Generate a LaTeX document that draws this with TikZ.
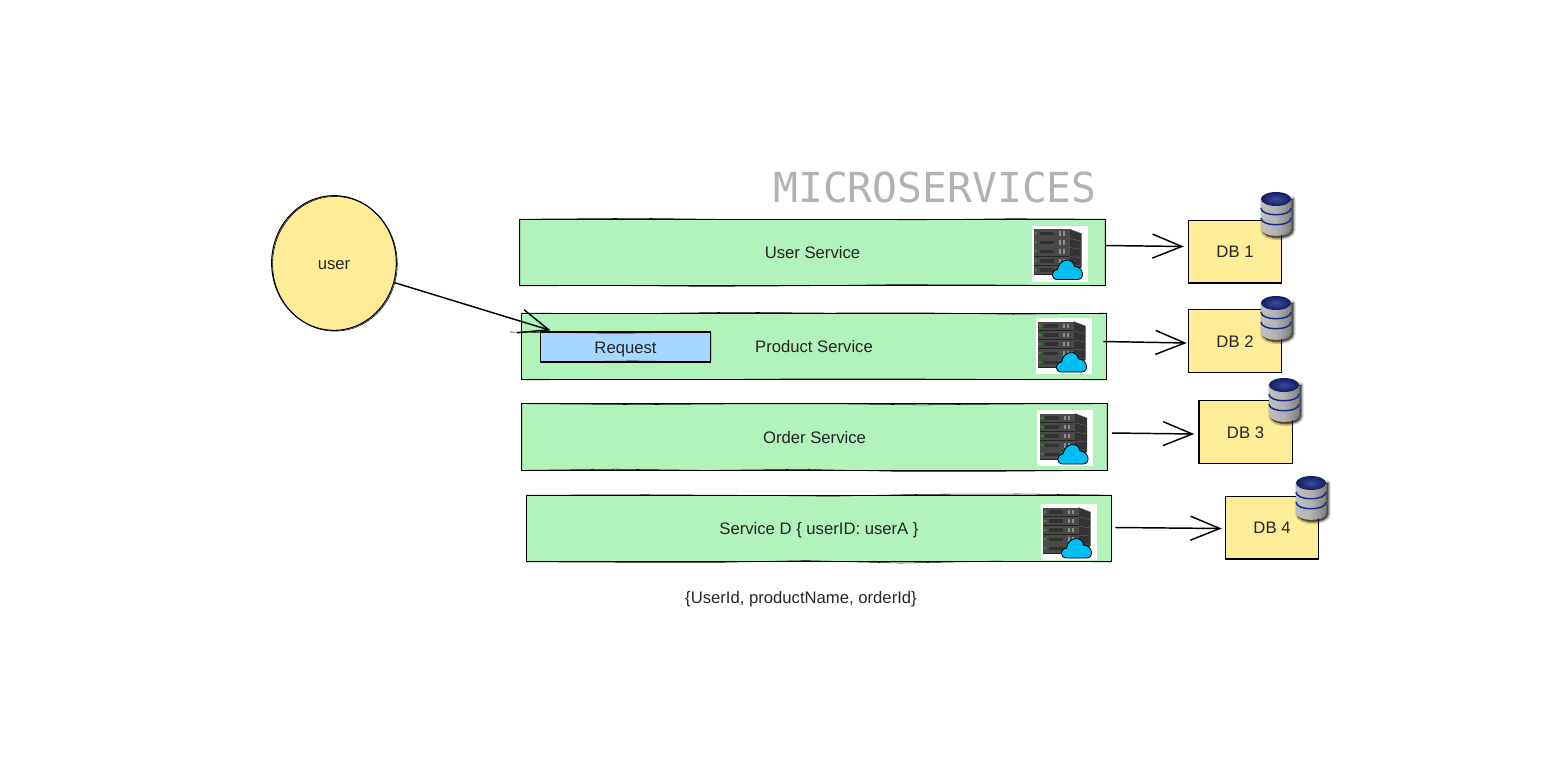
\documentclass[tikz,border=0pt]{standalone}
\usepackage{fontspec}
\usepackage{xcolor}
\setmainfont{Liberation Sans}
\setmonofont{DejaVu Sans Mono}
\usetikzlibrary{arrows.meta,decorations.pathmorphing,shapes.geometric}

\definecolor{svcgreen}{HTML}{B2F2BB}
\definecolor{noteyellow}{HTML}{FFEC99}
\definecolor{reqblue}{HTML}{A5D8FF}
\definecolor{cloudblue}{HTML}{00BEF2}
\definecolor{rackgrey}{HTML}{4A4A4A}
\definecolor{dbblue}{HTML}{1A2A8C}

\tikzset{
    every node/.style={font=\fontsize{12.5}{14}\selectfont, text=black!85, inner sep=0pt,
        text height=9.4pt, text depth=0pt},
    sketch/.style={draw=black, line width=.9pt,
        postaction={draw, line width=.4pt, decorate,
            decoration={random steps, segment length=70pt, amplitude=.9pt}}},
    svcbox/.style={sketch, fill=svcgreen, minimum width=439pt, minimum height=50pt},
    dbbox/.style={sketch, fill=noteyellow, minimum width=70pt, minimum height=47pt},
    reqbox/.style={sketch, fill=reqblue, minimum width=128pt, minimum height=22.5pt},
    userbox/.style={ellipse, draw=black, line width=.8pt, fill=noteyellow,
        minimum width=93.5pt, minimum height=101pt,
        postaction={draw, line width=.4pt, transform canvas={xshift=.7pt, yshift=-.6pt}}},
    barb/.style={-{Straight Barb[length=22pt, width=18pt, line width=1.1pt]}, line width=1.1pt},
    servericon/.pic={
        \fill[white] (-28,-28) rectangle (28,28);
        \fill[black!80] (10,-24.5) -- (22,-20) -- (22,14) -- (10,21.5) -- cycle;
        \fill[black!85] (-25.5,-24.5) rectangle (10,21.5);
        \foreach \row in {0,...,4} {
            \fill[rackgrey] (-25.5,-24.5+9.2*\row) rectangle (10,-16+9.2*\row);
            \draw[black!60, line width=.3pt] (10,-24.5+9.2*\row) -- (22,-20+8*\row);
            \fill[green!70!black] (-24.5,-21.5+9.2*\row) rectangle (-22.5,-19.5+9.2*\row);
            \fill[black!80] (-20,-22+9.2*\row) rectangle (-6,-18.5+9.2*\row);
            \fill[black!45] (-1,-22.5+9.2*\row) rectangle (1,-18+9.2*\row);
            \fill[black!45] (3,-22.5+9.2*\row) rectangle (5,-18+9.2*\row);
        }
        \draw[fill=cloudblue, line width=.6pt] (-2,26) .. controls (-9,26) and (-9,17) .. (-2,16)
            .. controls (0,4) and (14,4) .. (15,13)
            .. controls (24,13) and (26,26) .. (18,26) -- cycle;
    },
    dbicon/.pic={
        \foreach \grow in {4,2.5,1,0} {
            \draw[black, fill=black, opacity=.16, line width=\grow pt, line join=round]
                (-13,-15) -- (-13,16) .. controls (-13,26) and (17,26) .. (17,16) -- (17,-15) -- cycle;
        }
        \shade[left color=black!25, right color=black!50, middle color=black!30]
            (-15,-15) -- (-15,14) .. controls (-15,24.5) and (15,24.5) .. (15,14) -- (15,-15) -- cycle;
        \shade[inner color=dbblue!85!white, outer color=dbblue!70!black] (0,-15) ellipse [x radius=15, y radius=7];
        \draw[dbblue, line width=1.1pt] (-15,-6) .. controls (-15,3) and (15,3) .. (15,-6);
        \draw[dbblue, line width=1.1pt] (-15,4) .. controls (-15,13) and (15,13) .. (15,4);
    }
}

\begin{document}
\begin{tikzpicture}[x=.75pt, y=-.75pt]
    \useasboundingbox (0, 0) rectangle (1561, 776);
    \pgfmathsetseed{7}

    \node[text height=22.5pt] (title) at (935, 187) {\fontsize{31}{36}\selectfont\ttfamily\textcolor{black!30}{MICROSERVICES}};
    \node[userbox] (user) at (334, 263) {user};

    \node[svcbox] (svc1) at (812.5, 252.5) {User Service};
    \node[svcbox] (svc2) at (814, 346.5) {Product Service};
    \node[svcbox] (svc3) at (814.5, 437) {Order Service};
    \node[svcbox] (svc4) at (819, 528.5) {Service D \{ userID: userA \}};

    \pic at (1059.5, 253.5) {servericon};
    \pic at (1063.5, 346) {servericon};
    \pic at (1065, 438) {servericon};
    \pic at (1068.5, 532) {servericon};

    \node[dbbox] (db1) at (1235, 251.5) {DB 1};
    \node[dbbox] (db2) at (1235, 341) {DB 2};
    \node[dbbox] (db3) at (1245.5, 432) {DB 3};
    \node[dbbox] (db4) at (1272, 527.5) {DB 4};

    \pic at (1276, 214) {dbicon};
    \pic at (1276, 318) {dbicon};
    \pic at (1284, 400) {dbicon};
    \pic at (1311, 498) {dbicon};

    \node[reqbox] (req) at (625.5, 347) {Request};
    \node (note) at (801, 597) {\{UserId, productName, orderId\}};

    \draw[barb] (user.-18) -- ([shift={(11, -1)}]req.north west);
    \draw[barb] ([shift={(0, -7)}]svc1.east) -- ([shift={(-4, -5)}]db1.west);
    \draw[barb] ([shift={(-4, -5)}]svc2.east) -- ([shift={(-1, 2)}]db2.west);
    \draw[barb] ([shift={(4, -4)}]svc3.east) -- ([shift={(-4, 2)}]db3.west);
    \draw[barb] ([shift={(3, -1)}]svc4.east) -- ([shift={(-3, 1)}]db4.west);
\end{tikzpicture}
\end{document}
